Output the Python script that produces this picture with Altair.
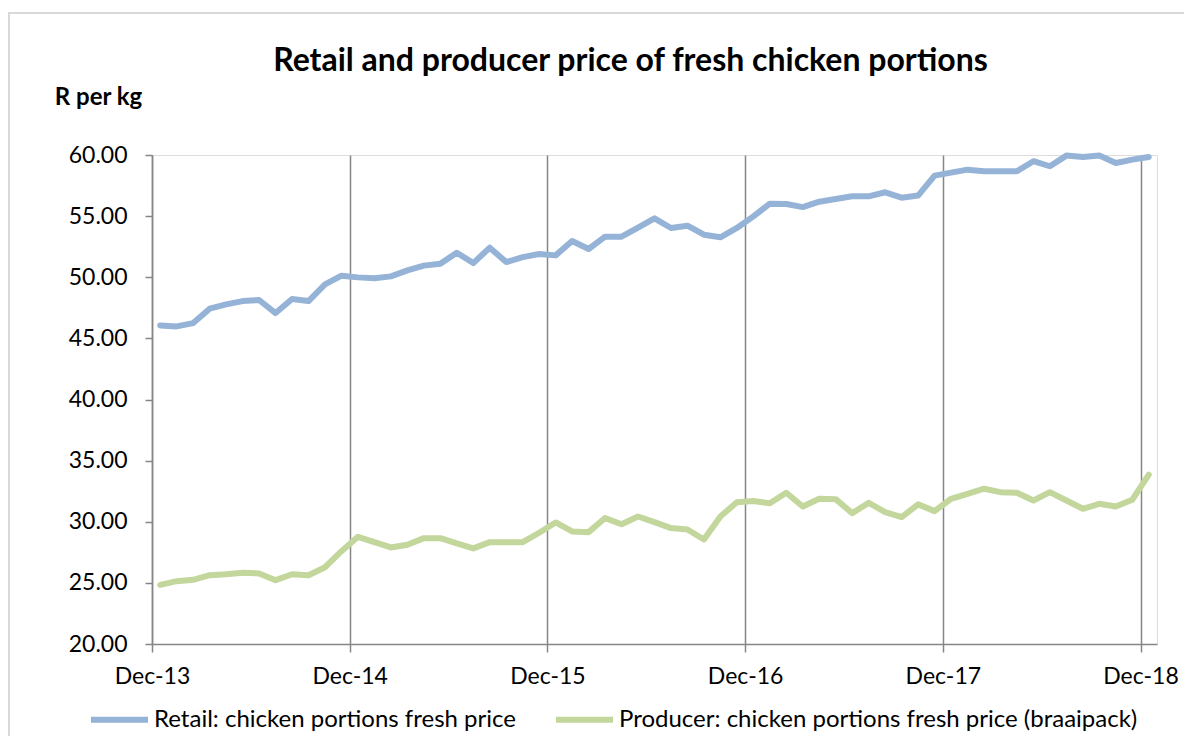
import altair as alt
import pandas as pd

# month index 0 = Dec-13 ... 60 = Dec-18
tick_labels = ["Dec-13", "Dec-14", "Dec-15", "Dec-16", "Dec-17", "Dec-18"]
tick_pos = [-0.5, 11.5, 23.5, 35.5, 47.5, 59.5]

retail = [46.06, 45.98, 46.25, 47.43, 47.78, 48.05, 48.14, 47.07, 48.22, 48.05,
          49.42, 50.13, 49.99, 49.91, 50.07, 50.56, 50.95, 51.11, 52.01, 51.16,
          52.42, 51.24, 51.65, 51.90, 51.79, 52.96, 52.31, 53.32, 53.32, 54.06,
          54.82, 54.03, 54.22, 53.48, 53.27, 54.03, 54.98, 56.02, 55.99, 55.74,
          56.18, 56.40, 56.62, 56.62, 56.95, 56.51, 56.68, 58.31, 58.56, 58.80,
          58.67, 58.67, 58.67, 59.49, 59.08, 59.95, 59.84, 59.95, 59.35, 59.62,
          59.84]
producer = [24.84, 25.14, 25.25, 25.63, 25.71, 25.83, 25.77, 25.22, 25.71, 25.63,
            26.28, 27.59, 28.77, 28.33, 27.90, 28.12, 28.66, 28.66, 28.23, 27.82,
            28.33, 28.33, 28.33, 29.10, 29.94, 29.21, 29.15, 30.30, 29.80, 30.43,
            29.97, 29.48, 29.37, 28.55, 30.43, 31.60, 31.69, 31.52, 32.37, 31.25,
            31.88, 31.85, 30.70, 31.55, 30.79, 30.38, 31.42, 30.87, 31.88, 32.29,
            32.70, 32.42, 32.37, 31.74, 32.42, 31.74, 31.06, 31.47, 31.25, 31.80,
            33.85]
series_names = ["Retail: chicken portions fresh price",
                "Producer: chicken portions fresh price (braaipack)"]
series_colors = ["#95B3D7", "#C3D69B"]

months = pd.date_range("2013-12-01", periods=len(retail), freq="MS")
rows = []
for i, m in enumerate(months):
    rows.append({"t": i, "month": m.strftime("%b-%y"), "series": series_names[0], "value": retail[i], "order": 0})
    rows.append({"t": i, "month": m.strftime("%b-%y"), "series": series_names[1], "value": producer[i], "order": 1})
df = pd.DataFrame(rows)

FONT = "Lato"
GRAY = "#868686"
FRAME = "#d9d9d9"

label_expr = "[" + ",".join("'%s'" % s for s in tick_labels) + "][round((datum.value + 0.5) / 12)]"

lines = alt.Chart(df).mark_line(strokeWidth=6, strokeJoin="round", strokeCap="round").encode(
    x=alt.X("t:Q", title=None,
            scale=alt.Scale(domain=[-0.5, 60.5], nice=False, zero=False),
            axis=alt.Axis(values=tick_pos, labelExpr=label_expr, grid=True,
                          gridColor=GRAY, gridWidth=1.5, domainColor=GRAY, domainWidth=1.5,
                          tickColor=GRAY, tickWidth=1.5, tickSize=8, labelPadding=13,
                          labelFontSize=23, labelFont=FONT, labelColor="#000000",
                          labelFlush=False)),
    y=alt.Y("value:Q",
            scale=alt.Scale(domain=[20, 60], nice=False, zero=False),
            axis=alt.Axis(values=[20, 25, 30, 35, 40, 45, 50, 55, 60], format=".2f", grid=False,
                          domainColor=GRAY, domainWidth=1.5, tickColor=GRAY, tickWidth=1.5,
                          tickSize=7, labelPadding=18, labelFontSize=23, labelFont=FONT,
                          labelColor="#000000",
                          title="R per kg", titleAngle=0, titleX=-54, titleY=-58,
                          titleAlign="center", titleBaseline="middle", titleFont=FONT,
                          titleFontSize=24, titleFontWeight="bold", titleColor="#000000")),
    color=alt.Color("series:N", scale=alt.Scale(domain=series_names, range=series_colors),
                    legend=alt.Legend(title=None, orient="none", direction="horizontal",
                                      legendX=-64, legendY=533, symbolType="stroke",
                                      symbolStrokeWidth=6, symbolSize=3249, labelFont=FONT,
                                      labelFontSize=24, labelColor="#000000", labelOffset=3,
                                      labelLimit=0, columnPadding=28)),
    order="order:Q",
    detail="series:N",
)

frame_top = alt.Chart(df).mark_rule(color=FRAME, strokeWidth=1.5).encode(
    x=alt.value(-144), x2=alt.value(1040), y=alt.value(-142))
frame_left = alt.Chart(df).mark_rule(color=FRAME, strokeWidth=1.5).encode(
    x=alt.value(-143), y=alt.value(-142), y2=alt.value(590))

chart = alt.layer(frame_top, frame_left, lines).properties(
    width=1005, height=489,
    padding={"left": 144, "top": 147, "right": 27, "bottom": 92},
    autosize=alt.AutoSizeParams(type="none"),
    title=alt.TitleParams("Retail and producer price of fresh chicken portions",
                          font=FONT, fontSize=32, fontWeight="bold", color="#000000",
                          anchor="middle", frame="group", offset=-66, dx=-24),
).configure_view(stroke="transparent", strokeWidth=0).configure(background="white")

chart.save("out.html", embed_options={"renderer": "svg", "actions": False})
